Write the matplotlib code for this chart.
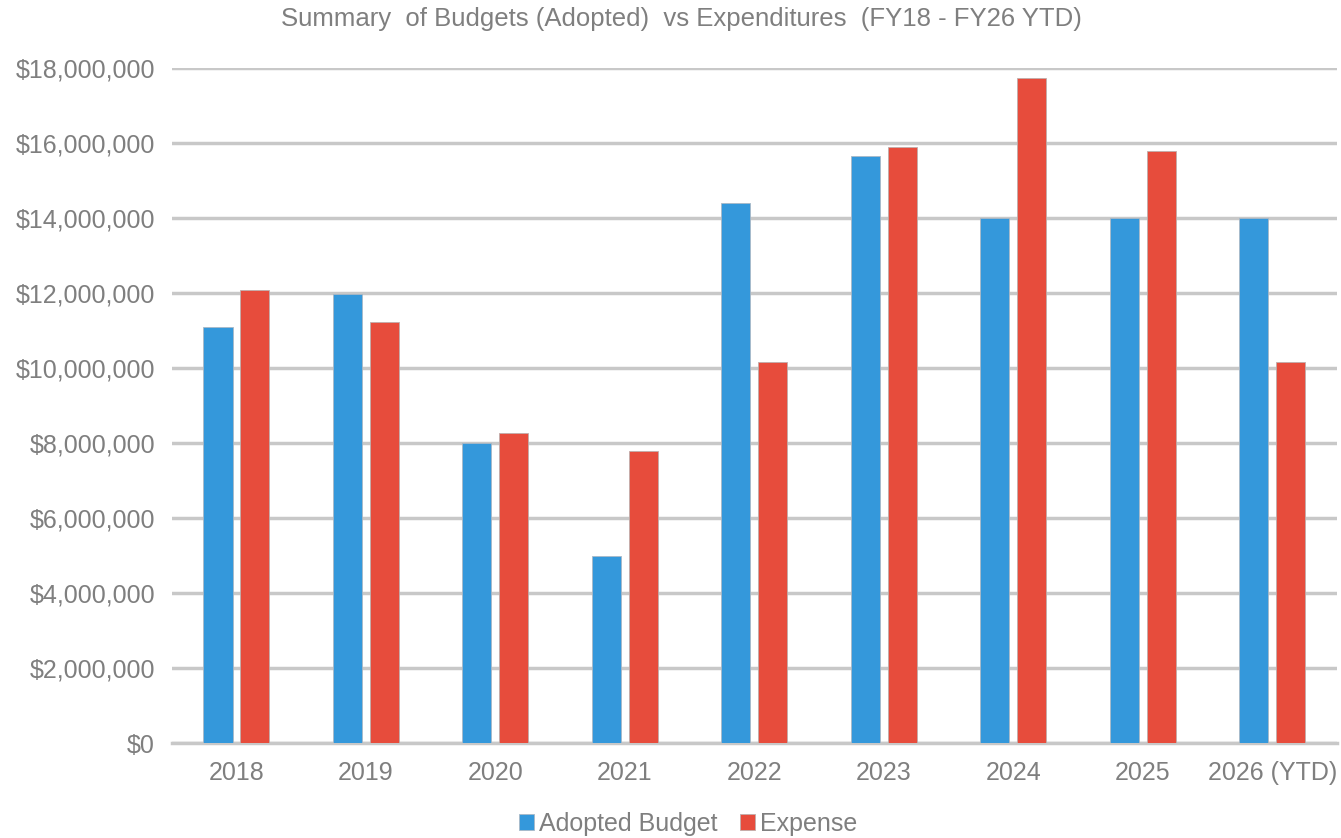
import numpy as np
import matplotlib.pyplot as plt
from matplotlib.ticker import FuncFormatter

years = ['2018', '2019', '2020', '2021', '2022', '2023', '2024', '2025', '2026 (YTD)']
adopted_budget = [11.09e6, 11.98e6, 8.0e6, 5.0e6, 14.4e6, 15.64e6, 14.0e6, 14.0e6, 14.0e6]
expense = [12.07e6, 11.22e6, 8.28e6, 7.8e6, 10.15e6, 15.88e6, 17.72e6, 15.79e6, 10.15e6]

plt.rcParams['font.family'] = ['Liberation Sans', 'DejaVu Sans']
txt = '#7f7f7f'

fig = plt.figure(figsize=(13.41, 8.38), dpi=100)
ax = fig.add_axes([0.128, 0.113, 0.869, 0.806])

x = np.arange(len(years))
w = 0.225
gap = 0.06
ax.bar(x - (w + gap) / 2, adopted_budget, w, color='#3498db', edgecolor='#a9b8c6',
       linewidth=0.6, label='Adopted Budget', zorder=3)
ax.bar(x + (w + gap) / 2, expense, w, color='#e74c3c', edgecolor='#bfaeac',
       linewidth=0.6, label='Expense', zorder=3)

ax.set_xlim(-0.5, len(years) - 0.5)
ax.set_ylim(0, 18e6)
ax.set_yticks(np.arange(0, 18e6 + 1, 2e6))
ax.yaxis.set_major_formatter(FuncFormatter(lambda v, p: '${:,.0f}'.format(v)))
ax.grid(axis='y', color='#c8c8c8', linewidth=2.5, zorder=0)
ax.set_xticks(x)
ax.set_xticklabels(years)
ax.tick_params(axis='both', length=0, labelsize=18, colors=txt)
ax.tick_params(axis='x', pad=13)
ax.tick_params(axis='y', pad=12)
for s in ['top', 'right', 'left']:
    ax.spines[s].set_visible(False)
ax.spines['bottom'].set_color('#c8c8c8')
ax.spines['bottom'].set_linewidth(2.5)

fig.suptitle('Summary  of Budgets (Adopted)  vs Expenditures  (FY18 - FY26 YTD)',
             x=0.508, y=0.992, fontsize=18.5, color=txt)

fig.legend(loc='lower center', bbox_to_anchor=(0.513, -0.024), ncol=2, frameon=False,
           fontsize=18, labelcolor=txt, handlelength=0.6, handleheight=0.6,
           handletextpad=0.2, columnspacing=0.9)

fig.savefig('out.png', dpi=100)
